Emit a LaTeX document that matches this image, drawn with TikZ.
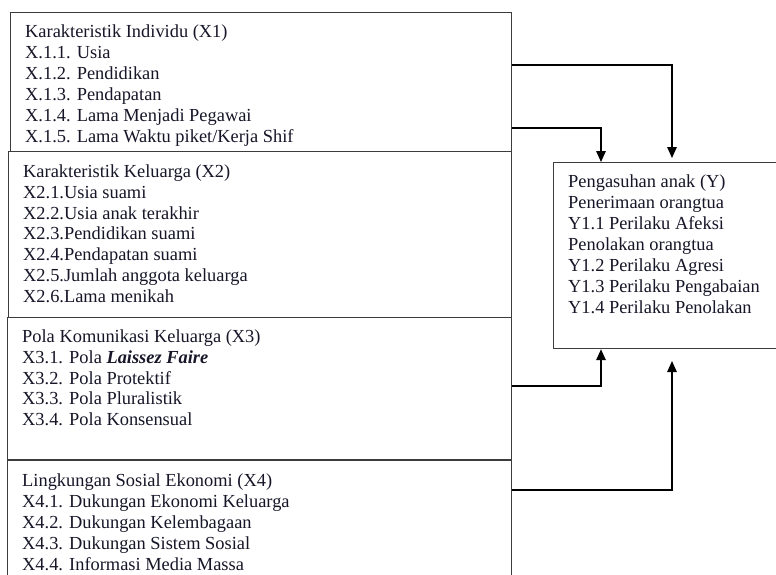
\documentclass[tikz,border=0pt]{standalone}
\usepackage{fontspec}
\setmainfont{Liberation Serif}
\usetikzlibrary{arrows.meta}
\definecolor{txtc}{RGB}{22,22,40}
\definecolor{boxc}{RGB}{60,60,60}
\tikzset{
  boxnode/.style={draw=boxc, line width=1.2pt, rectangle, inner sep=0pt, anchor=north west},
  txt/.style={anchor=north west, inner sep=0pt, align=left, text=txtc,
    font=\fontsize{18.4}{20.9}\selectfont},
  arr/.style={draw=black, line width=1.5pt, -{Triangle[length=11pt,width=9.5pt]}}
}
\begin{document}
\begin{tikzpicture}[x=1pt,y=-1pt]
\clip (0,0) rectangle (776,574);
\fill[white] (0,0) rectangle (776,574);
% boxes
\node[boxnode, minimum width=501pt, minimum height=139pt] (x1) at (10,12) {};
\node[boxnode, minimum width=503pt, minimum height=166pt] (x2) at (8,151) {};
\node[boxnode, minimum width=504pt, minimum height=142pt] (x3) at (7,317) {};
\node[boxnode, minimum width=504pt, minimum height=140pt] (x4) at (7,460) {};
\node[boxnode, minimum width=250pt, minimum height=186pt] (y) at (553,162) {};
% texts
\node[txt] (x1t) at (25,22.9) {\strut Karakteristik Individu (X1)\\X.1.1. Usia\\X.1.2. Pendidikan\\X.1.3. Pendapatan\\X.1.4. Lama Menjadi Pegawai\\X.1.5. Lama Waktu piket/Kerja Shif};
\node[txt] (x2t) at (23,162.4) {\strut Karakteristik Keluarga (X2)\\X2.1.Usia suami\\X2.2.Usia anak terakhir\\X2.3.Pendidikan suami\\X2.4.Pendapatan suami\\X2.5.Jumlah anggota keluarga\\X2.6.Lama menikah};
\node[txt] (x3t) at (22,327.4) {\strut Pola Komunikasi Keluarga (X3)\\X3.1. Pola \textbf{\textit{Laissez Faire}}\\X3.2. Pola Protektif\\X3.3. Pola Pluralistik\\X3.4. Pola Konsensual};
\node[txt] (x4t) at (22,472) {\strut Lingkungan Sosial Ekonomi (X4)\\X4.1. Dukungan Ekonomi Keluarga\\X4.2. Dukungan Kelembagaan\\X4.3. Dukungan Sistem Sosial\\X4.4. Informasi Media Massa};
\node[txt] (yt) at (568,173.1) {\strut Pengasuhan anak (Y)\\Penerimaan orangtua\\Y1.1 Perilaku Afeksi\\Penolakan orangtua\\Y1.2 Perilaku Agresi\\Y1.3 Perilaku Pengabaian\\Y1.4 Perilaku Penolakan};
% arrow ends
\coordinate (t1) at (672,158);
\coordinate (t4) at (672,361);
% connectors
\draw[arr] (x1.east |- 0,65) -| (t1);
\draw[arr] (x1.east |- 0,128) -| (y.north -| 601,0);
\draw[arr] (x3.east |- 0,386) -| (y.south -| 601,0);
\draw[arr] (x4.east |- 0,490) -| (t4);
\end{tikzpicture}
\end{document}
